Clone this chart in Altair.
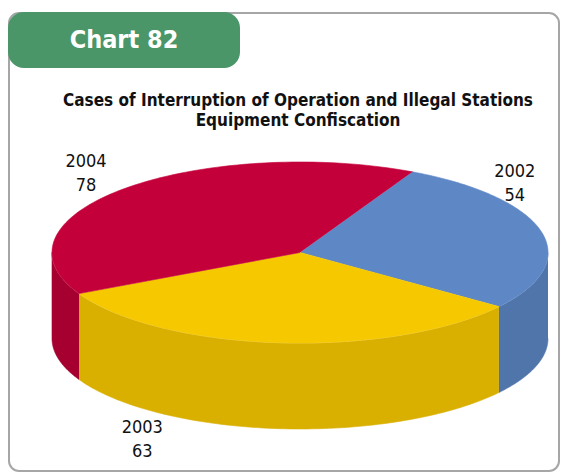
import altair as alt
import pandas as pd

# ---- data ----
years = ["2002", "2003", "2004"]
cases = [54, 63, 78]
chart_tag = "Chart 82"
title_lines = ["Cases of Interruption of Operation and Illegal Stations",
               "Equipment Confiscation"]

# ---- styles ----
top_colors = ["#5E87C6", "#F5C800", "#C4003A"]
side_colors = ["#5075AA", "#D9AF00", "#A50030"]
FONT = "DejaVu Sans Condensed, Roboto, sans-serif"
N = 90            # points per arc
DEPTH = 0.95      # wall depth in ellipse-minor units
START = -63       # start angle (deg, clockwise from 3 o'clock)
# label placement nudges: (angle shift deg, radius, on bottom rim)
label_nudge = {"2002": (-28, 1.15, 0), "2003": (24.7, 1.29, 1), "2004": (0, 1.22, 0)}

df = pd.DataFrame({"year": years, "cases": cases})

xs = alt.Scale(domain=[-1, 1], range=[52, 548], nice=False, zero=False)
ys = alt.Scale(domain=[-1, 1], range=[162, 343], nice=False, zero=False)

base = (
    alt.Chart(df)
    .transform_joinaggregate(total="sum(cases)")
    .transform_window(cum="sum(cases)", sort=[alt.SortField("year")], frame=[None, 0])
    .transform_calculate(t0=f"{START}*PI/180 + 2*PI*(datum.cum - datum.cases)/datum.total")
    .transform_calculate(t1=f"{START}*PI/180 + 2*PI*datum.cum/datum.total")
)

# top faces
top = (
    base.transform_calculate(seq=f"sequence(0, {N + 2})")
    .transform_flatten(["seq"], as_=["i"])
    .transform_calculate(t=f"datum.t0 + (datum.t1 - datum.t0) * (datum.i - 1) / {N}")
    .transform_calculate(px="datum.i == 0 ? 0 : cos(datum.t)")
    .transform_calculate(py="datum.i == 0 ? 0 : sin(datum.t)")
    .mark_line(filled=True, strokeWidth=0.6, strokeJoin="round")
    .encode(
        x=alt.X("px:Q", scale=xs, axis=None),
        y=alt.Y("py:Q", scale=ys, axis=None),
        order=alt.Order("i:Q"),
        color=alt.Color("year:N", scale=alt.Scale(domain=years, range=top_colors), legend=None),
        stroke=alt.Stroke("year:N", scale=alt.Scale(domain=years, range=top_colors), legend=None),
    )
)

# front walls
side_data = (
    base.transform_calculate(s0="max(datum.t0, 0)")
    .transform_calculate(s1="min(datum.t1, PI)")
    .transform_filter("datum.s1 > datum.s0")
    .transform_calculate(seq=f"sequence(0, {2 * N + 2})")
    .transform_flatten(["seq"], as_=["i"])
    .transform_calculate(
        t=f"datum.i <= {N} ? datum.s0 + (datum.s1 - datum.s0) * datum.i / {N} : "
          f"datum.s1 - (datum.s1 - datum.s0) * (datum.i - {N} - 1) / {N}"
    )
    .transform_calculate(px="cos(datum.t)")
    .transform_calculate(py=f"sin(datum.t) + (datum.i > {N} ? {DEPTH} : 0)")
)
side = side_data.mark_line(filled=True, strokeWidth=0.6).encode(
    x=alt.X("px:Q", scale=xs, axis=None),
    y=alt.Y("py:Q", scale=ys, axis=None),
    order=alt.Order("i:Q"),
    color=alt.Color("year:N", scale=alt.Scale(domain=years, range=side_colors), legend=None),
    stroke=alt.Stroke("year:N", scale=alt.Scale(domain=years, range=side_colors), legend=None),
)
rim = side_data.transform_filter(f"datum.i <= {N}").mark_line(
    color="#FFFFFF", strokeWidth=1, opacity=0.35
).encode(
    x=alt.X("px:Q", scale=xs, axis=None),
    y=alt.Y("py:Q", scale=ys, axis=None),
    order=alt.Order("i:Q"),
    detail="year:N",
)

shift_expr = " : ".join(f"datum.year == '{k}' ? {v[0]}" for k, v in label_nudge.items()) + " : 0"
rad_expr = " : ".join(f"datum.year == '{k}' ? {v[1]}" for k, v in label_nudge.items()) + " : 1.2"
drop_expr = " : ".join(f"datum.year == '{k}' ? {v[2]}" for k, v in label_nudge.items()) + " : 0"

labels = (
    base.transform_calculate(mid=f"(datum.t0 + datum.t1) / 2 + ({shift_expr}) * PI / 180")
    .transform_calculate(rad=rad_expr)
    .transform_calculate(lx="datum.rad * cos(datum.mid)")
    .transform_calculate(ly=f"datum.rad * sin(datum.mid) + ({drop_expr}) * {DEPTH}")
    .transform_calculate(label="datum.year + '\\n' + datum.cases")
    .mark_text(font=FONT, fontSize=18, color="#111111", lineBreak="\n", lineHeight=24,
               baseline="middle", align="center", dy=-12)
    .encode(
        x=alt.X("lx:Q", scale=xs, axis=None),
        y=alt.Y("ly:Q", scale=ys, axis=None),
        text="label:N",
    )
)

deco = alt.Chart(pd.DataFrame({"tag": [chart_tag]}))
border = deco.mark_rect(fillOpacity=0, stroke="#A6A6A6", strokeWidth=2, cornerRadius=10).encode(
    x=alt.value(9), x2=alt.value(559), y=alt.value(13), y2=alt.value(471)
)
tab = deco.mark_rect(fill="#4A9668", cornerRadius=16).encode(
    x=alt.value(8), x2=alt.value(240), y=alt.value(12), y2=alt.value(68)
)
tab_text = deco.mark_text(font=FONT, fontSize=25, fontWeight="bold", color="#FFFFFF",
                          baseline="middle", align="center").encode(
    x=alt.value(124), y=alt.value(40), text="tag:N"
)
title = alt.Chart(pd.DataFrame({"line": title_lines, "k": [0, 1]})).mark_text(
    font=FONT, fontSize=17, fontWeight="bold", color="#111111", baseline="alphabetic", align="center"
).encode(
    x=alt.value(298),
    y=alt.Y("k:Q", scale=alt.Scale(domain=[0, 1], range=[106, 126]), axis=None),
    text="line:N",
)

chart = alt.layer(border, tab, tab_text, title, side, rim, top, labels).resolve_scale(
    y="independent", color="independent", stroke="independent"
).properties(
    width=568, height=474, autosize=alt.AutoSizeParams(type="none"), padding=0,
    background="#FFFFFF",
).configure_view(strokeWidth=0)

chart.save("out.html", embed_options={"renderer": "svg", "actions": False})
